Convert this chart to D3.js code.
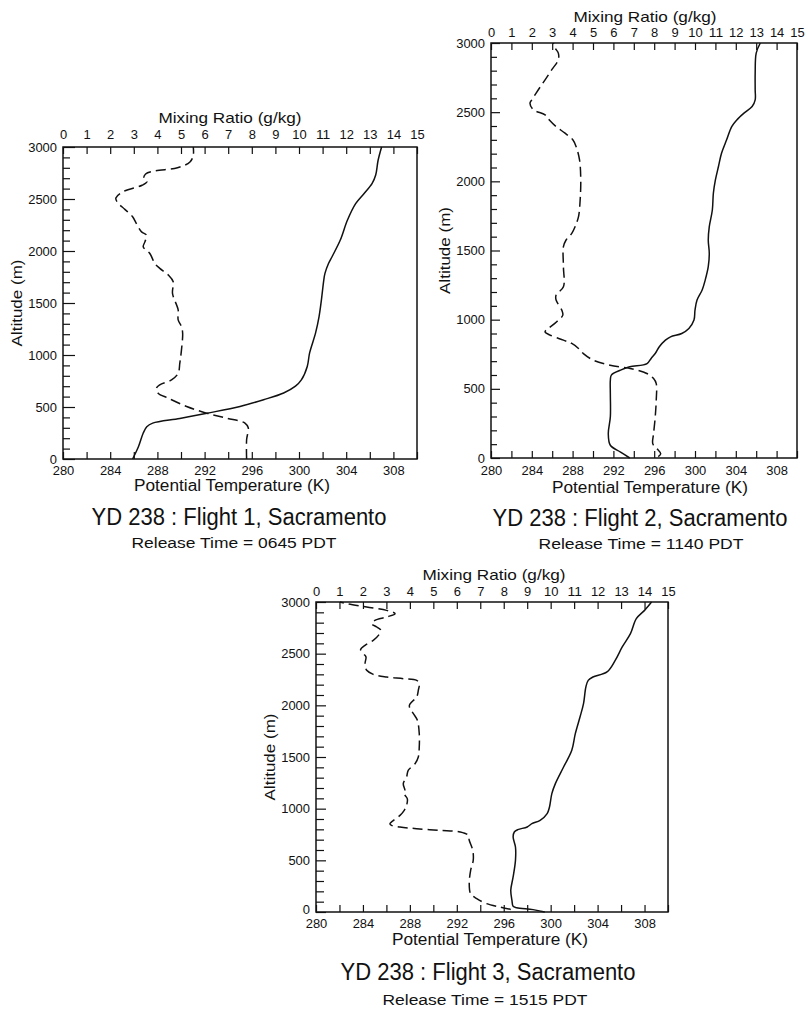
<!DOCTYPE html>
<html><head><meta charset="utf-8">
<script src="https://cdn.jsdelivr.net/npm/d3@7"></script>
<style>
body{margin:0;background:#fff}
svg{display:block}
text{font-family:"Liberation Sans",Arial,Helvetica,sans-serif;fill:#111}
</style>
</head><body>
<svg id="c" width="808" height="1011"></svg>
<script>
// ---------- data ----------
const tempTicks = d3.range(280, 311, 2);
const tempLabels = [280, 284, 288, 292, 296, 300, 304, 308];
const mixTicks = d3.range(0, 16, 1);
const altMajor = [0, 500, 1000, 1500, 2000, 2500, 3000];
const altMinor = d3.range(0, 3001, 100);

const titles = ["YD 238 : Flight 1, Sacramento", "YD 238 : Flight 2, Sacramento", "YD 238 : Flight 3, Sacramento"];
const releases = ["Release Time = 0645 PDT", "Release Time = 1140 PDT", "Release Time = 1515 PDT"];

// Flight 1
const f1ThetaAlt = [0,120,250,310,345,390,440,505,570,635,700,760,890,1020,1210,1370,1530,1720,1785,1880,1945,2105,2295,2455,2550,2650,2730,2870,3000];
const f1Theta    = [285.9,286.4,286.8,287.1,287.6,289.9,292.2,295.0,297.0,298.7,299.7,300.2,300.7,300.9,301.4,301.7,301.9,302.1,302.2,302.5,302.8,303.5,304.1,304.8,305.5,306.2,306.5,306.7,307.0];
const f1MixAlt = [0,185,300,345,393,441,505,585,633,681,713,761,825,921,1049,1209,1273,1337,1433,1592,1705,1769,1833,1880,1976,2040,2088,2152,2184,2264,2330,2400,2470,2510,2570,2632,2664,2696,2740,2770,2800,2856,2920,3000];
const f1Mix    = [7.78,7.78,7.85,7.71,6.93,6.08,5.24,4.46,4.03,3.96,4.10,4.60,4.88,4.95,5.02,5.07,5.02,4.88,4.88,4.64,4.67,4.46,4.10,3.89,3.68,3.40,3.47,3.54,3.33,3.11,2.95,2.62,2.30,2.24,2.55,3.35,3.55,3.42,3.50,3.90,4.85,5.38,5.52,5.52];

// Flight 2
const f2ThetaAlt = [0,43,92,176,297,466,562,599,635,659,683,720,755,804,852,876,900,936,997,1069,1142,1214,1286,1383,1479,1576,1672,1793,1914,2010,2107,2203,2300,2396,2444,2493,2541,2589,2662,2783,2927,3000];
const f2Theta    = [293.6,292.7,291.7,291.5,291.7,291.7,291.7,291.8,292.7,293.6,295.3,295.7,296.1,296.5,297.1,297.6,298.7,299.4,299.9,300.0,300.2,300.7,301.0,301.3,301.4,301.3,301.4,301.7,301.8,302.0,302.3,302.6,303.1,303.6,304.1,304.8,305.6,305.9,305.9,305.9,306.0,306.4];
const f2MixAlt = [10,31,68,104,176,297,418,538,574,611,647,671,707,755,792,828,852,888,912,936,985,1033,1069,1142,1178,1238,1383,1528,1576,1624,1672,1745,1865,2010,2155,2252,2300,2348,2396,2444,2481,2517,2565,2589,2662,2734,2807,2879,2927,2964,3000];
const f2Mix    = [8.2,8.32,8.13,7.93,7.97,8.05,8.10,8.10,7.97,7.64,6.82,5.84,5.02,4.53,4.29,3.96,3.55,2.90,2.65,2.81,3.22,3.52,3.47,3.19,3.19,3.55,3.55,3.55,3.68,3.96,4.12,4.29,4.37,4.40,4.34,4.17,4.01,3.63,3.19,2.86,2.65,2.08,1.91,2.00,2.32,2.65,2.98,3.30,3.30,3.14,3.06];

// Flight 3
const f3ThetaAlt = [0,23,42,55,113,210,339,500,629,726,774,797,823,855,887,952,1016,1145,1242,1403,1565,1726,1887,2016,2177,2242,2274,2323,2435,2565,2694,2839,2919,3000];
const f3Theta    = [299.5,298.5,297.1,296.8,296.7,296.6,296.8,297.0,297.0,296.8,296.9,297.2,298.0,298.4,299.1,299.7,299.9,300.1,300.4,301.1,301.8,302.1,302.5,302.8,303.0,303.2,303.6,304.8,305.5,306.1,306.8,307.3,308.0,308.6];
const f3MixAlt = [25,48,81,129,177,274,403,500,597,694,742,774,790,806,823,839,855,887,935,984,1032,1097,1145,1177,1242,1306,1371,1435,1500,1597,1726,1855,1919,1968,2000,2032,2081,2145,2210,2242,2258,2274,2300,2339,2403,2468,2500,2539,2581,2629,2677,2726,2758,2790,2823,2855,2887,2919,2952,2984,3000];
const f3Mix    = [8.3,7.84,7.27,6.85,6.59,6.53,6.59,6.70,6.68,6.53,6.49,6.14,5.28,4.29,3.58,3.22,3.15,3.30,3.58,3.76,3.86,3.89,3.75,3.79,3.72,3.86,3.93,4.22,4.36,4.40,4.40,4.32,4.15,4.01,3.98,4.08,4.29,4.36,4.40,4.29,3.72,3.01,2.44,2.16,2.09,2.13,2.02,1.90,2.09,2.44,2.66,2.76,2.59,2.37,2.51,3.01,3.37,3.01,2.16,1.31,1.02];

// ---------- layout ----------
const panels = [
  {x:63, y:147, w:354, h:312, major:12, minor:7, topPad:8, botPad:7.5, zeroDy:"0.32em",
   mixT:[230,123], tempT:[232,491], title:[239,525], rel:[234,548],
   thetaAlt:f1ThetaAlt, theta:f1Theta, mixAlt:f1MixAlt, mix:f1Mix},
  {x:491, y:43, w:306, h:415, major:9, minor:6, topPad:6, botPad:8.5, zeroDy:"0.32em",
   mixT:[645,22], tempT:[650,493], title:[640,526], rel:[641,549],
   thetaAlt:f2ThetaAlt, theta:f2Theta, mixAlt:f2MixAlt, mix:f2Mix},
  {x:316, y:602, w:352, h:310, major:10, minor:8, topPad:6, botPad:7.5, zeroDy:"0.1em",
   mixT:[494,580], tempT:[490,945], title:[488,980], rel:[485,1005],
   thetaAlt:f3ThetaAlt, theta:f3Theta, mixAlt:f3MixAlt, mix:f3Mix}
];

const svg = d3.select("#c");
svg.append("rect").attr("width",808).attr("height",1011).attr("fill","#fff");

function stretch(sel, perChar) {
  sel.each(function(){
    const t = d3.select(this).text();
    if (t) d3.select(this).attr("textLength", t.length*perChar).attr("lengthAdjust","spacingAndGlyphs");
  });
}
const fmt = d3.format("d");

panels.forEach((p, i) => {
  const g = svg.append("g").attr("transform", `translate(${p.x},${p.y})`);
  const xT = d3.scaleLinear([280, 310], [0, p.w]);
  const xM = d3.scaleLinear([0, 15], [0, p.w]);
  const y = d3.scaleLinear([0, 3000], [p.h, 0]);

  const gMin = g.append("g").call(d3.axisLeft(y).tickValues(altMinor.filter(v => v % 500 !== 0)).tickSize(-p.minor).tickFormat(""));
  const gMaj = g.append("g").call(d3.axisLeft(y).tickValues(altMajor).tickSize(-p.major).tickPadding(6).tickFormat(fmt));
  const gTop = g.append("g").call(d3.axisTop(xM).tickValues(mixTicks).tickSize(-7).tickPadding(p.topPad).tickFormat(fmt));
  const gBot = g.append("g").attr("transform", `translate(0,${p.h})`)
    .call(d3.axisBottom(xT).tickValues(tempTicks).tickSize(-7).tickPadding(p.botPad)
      .tickFormat(d => tempLabels.includes(d) ? fmt(d) : ""));

  [gMin, gMaj, gTop, gBot].forEach(a => {
    a.select(".domain").remove();
    a.selectAll("line").attr("stroke", "#111").attr("stroke-width", 1.2);
    a.selectAll("text").attr("font-size", 12.5).attr("fill", "#111")
      .style("font-family", '"Liberation Sans",Arial,sans-serif');
    stretch(a.selectAll("text"), 7.2);
  });
  gMaj.selectAll(".tick").filter(d => d === 0).select("text").attr("dy", p.zeroDy);

  g.append("rect").attr("width", p.w).attr("height", p.h)
    .attr("fill", "none").attr("stroke", "#111").attr("stroke-width", 1.5);

  const line = d3.line().curve(d3.curveCatmullRom.alpha(0.5));
  g.append("path")
    .attr("d", line(p.theta.map((t, k) => [xT(t), y(p.thetaAlt[k])])))
    .attr("fill", "none").attr("stroke", "#111").attr("stroke-width", 1.5);
  g.append("path")
    .attr("d", line(p.mix.map((m, k) => [xM(m), y(p.mixAlt[k])])))
    .attr("fill", "none").attr("stroke", "#111").attr("stroke-width", 1.5)
    .attr("stroke-dasharray", "10,5");

  g.append("text").attr("transform", `translate(-41,${p.h/2}) rotate(-90)`)
    .attr("text-anchor", "middle").attr("font-size", 15)
    .attr("textLength", 87).attr("lengthAdjust", "spacingAndGlyphs")
    .text("Altitude (m)");

  svg.append("text").attr("x", p.mixT[0]).attr("y", p.mixT[1]).attr("text-anchor", "middle")
    .attr("font-size", 15).attr("textLength", 143).attr("lengthAdjust", "spacingAndGlyphs")
    .text("Mixing Ratio (g/kg)");
  svg.append("text").attr("x", p.tempT[0]).attr("y", p.tempT[1]).attr("text-anchor", "middle")
    .attr("font-size", 16).attr("textLength", 196).attr("lengthAdjust", "spacingAndGlyphs")
    .text("Potential Temperature (K)");

  svg.append("text").attr("x", p.title[0]).attr("y", p.title[1]).attr("text-anchor", "middle")
    .attr("font-size", 23).attr("textLength", 295).attr("lengthAdjust", "spacingAndGlyphs")
    .text(titles[i]);
  svg.append("text").attr("x", p.rel[0]).attr("y", p.rel[1]).attr("text-anchor", "middle")
    .attr("font-size", 15.5).attr("textLength", 205).attr("lengthAdjust", "spacingAndGlyphs")
    .text(releases[i]);
});
</script>
</body></html>
